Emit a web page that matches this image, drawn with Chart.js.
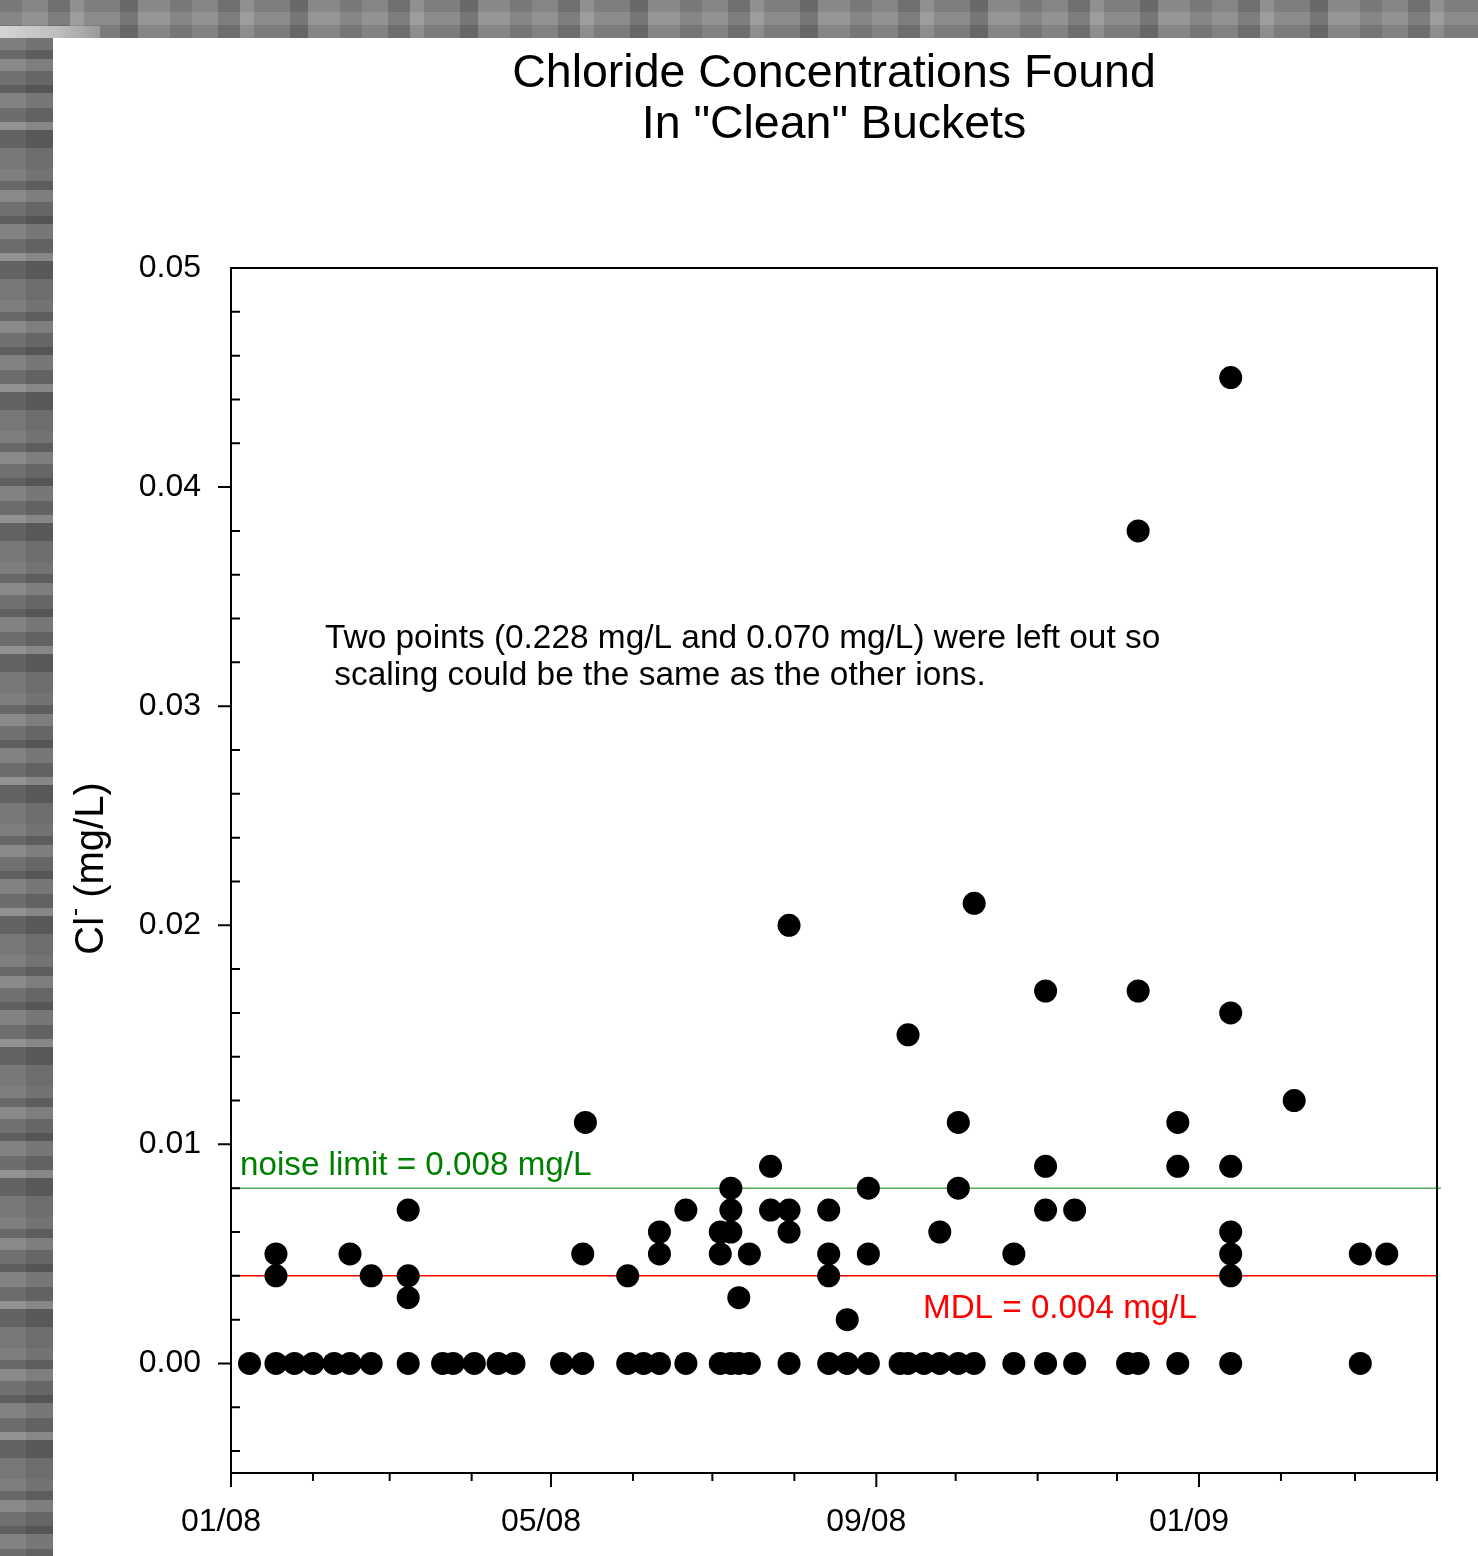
<!DOCTYPE html>
<html>
<head>
<meta charset="utf-8">
<title>Chloride Concentrations Found In "Clean" Buckets</title>
<script src="https://cdn.jsdelivr.net/npm/chart.js@4.4.1/dist/chart.umd.min.js"></script>
<style>
  html, body { margin: 0; padding: 0; }
  body { width: 1478px; height: 1556px; position: relative; overflow: hidden; background: #6f6f6f; }
  #strip-top {
    position: absolute; left: 0; top: 0; width: 1478px; height: 38px;
    background:
      linear-gradient(180deg, rgba(0,0,0,0.04) 0 12px, rgba(255,255,255,0.07) 12px 25px, rgba(0,0,0,0.06) 25px 38px),
      repeating-linear-gradient(90deg, #7d7d7d 0 22px, #8a8a8a 22px 48px, #747474 48px 70px, #969696 70px 84px, #838383 84px 120px, #6d6d6d 120px 138px, #8e8e8e 138px 170px);
  }
  #strip-top:before {
    content: ""; position: absolute; left: 0; top: 26px; width: 100px; height: 12px;
    background: linear-gradient(90deg, #d4d4d4, #bdbdbd 60%, #9a9a9a);
  }
  #strip-left {
    position: absolute; left: 0; top: 38px; width: 53px; height: 1518px;
    background:
      linear-gradient(90deg, rgba(255,255,255,0.03) 0 26px, rgba(0,0,0,0.06) 26px 53px),
      repeating-linear-gradient(180deg, #7a7a7a 0 12px, #636363 12px 21px, #868686 21px 33px, #6c6c6c 33px 47px, #5a5a5a 47px 55px, #7e7e7e 55px 70px, #686868 70px 84px, #8f8f8f 84px 92px, #5e5e5e 92px 110px, #747474 110px 131px);
  }
  #panel { position: absolute; left: 53px; top: 38px; width: 1425px; height: 1518px; background: #fff; }
  canvas { display: block; }
</style>
</head>
<body>
<div id="strip-top"></div>
<div id="strip-left"></div>
<div id="panel"><canvas id="chloride" width="1425" height="1518"></canvas></div>
<script>
// sampling dates and the Cl- results found on each date (mg/L)
var sampleDates = [
  '2008-01-08', '2008-01-18', '2008-01-25', '2008-02-01', '2008-02-09', '2008-02-15',
  '2008-02-23', '2008-03-08', '2008-03-21', '2008-03-25', '2008-04-02', '2008-04-11',
  '2008-04-17', '2008-05-05', '2008-05-13', '2008-05-14', '2008-05-30', '2008-06-05',
  '2008-06-11', '2008-06-21', '2008-07-04', '2008-07-08', '2008-07-11', '2008-07-15',
  '2008-07-23', '2008-07-30', '2008-08-14', '2008-08-21', '2008-08-29', '2008-09-10',
  '2008-09-13', '2008-09-19', '2008-09-25', '2008-10-02', '2008-10-08', '2008-10-23',
  '2008-11-04', '2008-11-15', '2008-12-05', '2008-12-09', '2008-12-24', '2009-01-13',
  '2009-02-06', '2009-03-03', '2009-03-13'
];
var chlorideResults = [
  [0], [0, 0.004, 0.005], [0], [0], [0], [0, 0.005],
  [0, 0.004], [0, 0.003, 0.004, 0.007], [0], [0], [0], [0],
  [0], [0], [0, 0.005], [0.011], [0, 0.004], [0],
  [0, 0.005, 0.006], [0, 0.007], [0, 0.005, 0.006], [0, 0.006, 0.007, 0.008], [0, 0.003], [0, 0.005],
  [0.007, 0.009], [0, 0.006, 0.007, 0.020], [0, 0.004, 0.005, 0.007], [0, 0.002], [0, 0.005, 0.008], [0],
  [0, 0.015], [0], [0, 0.006], [0, 0.008, 0.011], [0, 0.021], [0, 0.005],
  [0, 0.007, 0.009, 0.017], [0, 0.007], [0], [0, 0.017, 0.038], [0, 0.009, 0.011], [0, 0.004, 0.005, 0.006, 0.009, 0.016, 0.045],
  [0.012], [0, 0.005], [0.005]
];

var noiseLimit = 0.008;
var mdl = 0.004;

// x axis: one tick per month, labels every fourth month
var xTickDates = [
  '2008-01-01', '2008-02-01', '2008-03-01', '2008-04-01', '2008-05-01', '2008-06-01',
  '2008-07-01', '2008-08-01', '2008-09-01', '2008-10-01', '2008-11-01', '2008-12-01',
  '2009-01-01', '2009-02-01', '2009-03-01', '2009-04-01'
];
var xTickLabels = ['01/08', '', '', '', '05/08', '', '', '', '09/08', '', '', '', '01/09', '', '', ''];
var yTicks = [0, 0.01, 0.02, 0.03, 0.04, 0.05];

var t0 = Date.UTC(2008, 0, 1);
function dayOf(s) {
  var p = s.split('-');
  return (Date.UTC(+p[0], +p[1] - 1, +p[2]) - t0) / 86400000;
}
var xTickDays = xTickDates.map(dayOf);
var xMax = xTickDays[xTickDays.length - 1];

var points = [];
sampleDates.forEach(function(d, i) {
  chlorideResults[i].forEach(function(v) {
    points.push({ x: dayOf(d), y: v });
  });
});

var FONT = '"Liberation Sans", Arial, Helvetica, sans-serif';

var frame = {
  id: 'frame',
  afterDraw: function(chart) {
    var ctx = chart.ctx, a = chart.chartArea, xs = chart.scales.x, ys = chart.scales.y;
    ctx.save();
    ctx.strokeStyle = '#000';
    ctx.lineWidth = 2;
    ctx.strokeRect(a.left, a.top, a.right - a.left, a.bottom - a.top);

    ctx.beginPath();
    // y major ticks outward, minor ticks inward
    for (var k = -2; k <= 24; k++) {
      var py = ys.getPixelForValue(k * 0.002);
      if (k % 5 === 0) { ctx.moveTo(a.left - 13, py); ctx.lineTo(a.left, py); }
      else { ctx.moveTo(a.left, py); ctx.lineTo(a.left + 9, py); }
    }
    // x ticks, longer where labelled
    xTickDays.forEach(function(d, i) {
      var px = xs.getPixelForValue(d);
      ctx.moveTo(px, a.bottom);
      ctx.lineTo(px, a.bottom + (xTickLabels[i] ? 14 : 8));
    });
    ctx.stroke();

    ctx.fillStyle = '#000';
    ctx.textAlign = 'center';
    ctx.textBaseline = 'alphabetic';
    var cx = (a.left + a.right) / 2;
    ctx.font = '46.5px ' + FONT;
    ctx.fillText('Chloride Concentrations Found', cx, 49);
    ctx.fillText('In "Clean" Buckets', cx, 100);

    ctx.textAlign = 'left';
    ctx.font = '33.4px ' + FONT;
    ctx.fillText('Two points (0.228 mg/L and 0.070 mg/L) were left out so', a.left + 94, a.top + 380);
    ctx.fillText(' scaling could be the same as the other ions.', a.left + 94, a.top + 417);

    ctx.font = '33.2px ' + FONT;
    ctx.fillStyle = '#008000';
    ctx.fillText('noise limit = 0.008 mg/L', a.left + 9, ys.getPixelForValue(noiseLimit) - 13);
    ctx.fillStyle = '#ff0000';
    ctx.fillText('MDL = 0.004 mg/L', a.left + 692, ys.getPixelForValue(mdl) + 42);

    // y axis title: Cl- (mg/L)
    ctx.fillStyle = '#000';
    ctx.translate(50, (a.top + a.bottom) / 2 - 2);
    ctx.rotate(-Math.PI / 2);
    ctx.font = '40px ' + FONT;
    var w1 = ctx.measureText('Cl').width;
    var w3 = ctx.measureText(' (mg/L)').width;
    ctx.font = '24px ' + FONT;
    var w2 = ctx.measureText('-').width;
    var x0 = -(w1 + w2 + w3) / 2;
    ctx.font = '40px ' + FONT;
    ctx.fillText('Cl', x0, 0);
    ctx.fillText(' (mg/L)', x0 + w1 + w2, 0);
    ctx.font = '24px ' + FONT;
    ctx.fillText('-', x0 + w1 + 1, -21);
    ctx.restore();
  }
};

var ctx = document.getElementById('chloride').getContext('2d');
var config = {
  type: 'scatter',
  data: {
    datasets: [{
      label: 'Cl-',
      data: points,
      backgroundColor: '#000',
      borderWidth: 0,
      pointRadius: 11.5,
      pointHoverRadius: 11.5,
      order: 0
    },
    {
      label: 'noise limit',
      type: 'line',
      data: [{ x: 0, y: noiseLimit }, { x: xMax + 1.5, y: noiseLimit }],
      borderColor: '#008000',
      borderWidth: 1,
      pointRadius: 0,
      clip: false,
      order: 1
    },
    {
      label: 'MDL',
      type: 'line',
      data: [{ x: 0, y: mdl }, { x: xMax, y: mdl }],
      borderColor: '#ff0000',
      borderWidth: 1.5,
      pointRadius: 0,
      order: 1
    }]
  },
  options: {
    responsive: false,
    animation: false,
    events: [],
    devicePixelRatio: 1,
    layout: { padding: { left: 0, top: 230, right: 41, bottom: 0 } },
    plugins: { legend: { display: false }, tooltip: { enabled: false }, title: { display: false } },
    scales: {
      x: {
        type: 'linear',
        min: 0,
        max: xMax,
        grid: { display: false, drawTicks: false },
        border: { display: false },
        afterBuildTicks: function(s) { s.ticks = xTickDays.map(function(d) { return { value: d }; }); },
        afterFit: function(s) { s.height = 83; },
        ticks: {
          autoSkip: false,
          maxRotation: 0,
          padding: 30,
          labelOffset: -10,
          color: '#000',
          font: { family: FONT, size: 32 },
          callback: function(v, i) { return xTickLabels[i]; }
        }
      },
      y: {
        min: -0.005,
        max: 0.05,
        grid: { display: false, drawTicks: false },
        border: { display: false },
        afterBuildTicks: function(s) { s.ticks = yTicks.map(function(v) { return { value: v }; }); },
        afterFit: function(s) { s.width = 178; },
        ticks: {
          padding: 30,
          color: '#000',
          font: { family: FONT, size: 32 },
          callback: function(v) { return v.toFixed(2); }
        }
      }
    }
  },
  plugins: [frame]
};

var chart = new Chart(ctx, config);
</script>
</body>
</html>
